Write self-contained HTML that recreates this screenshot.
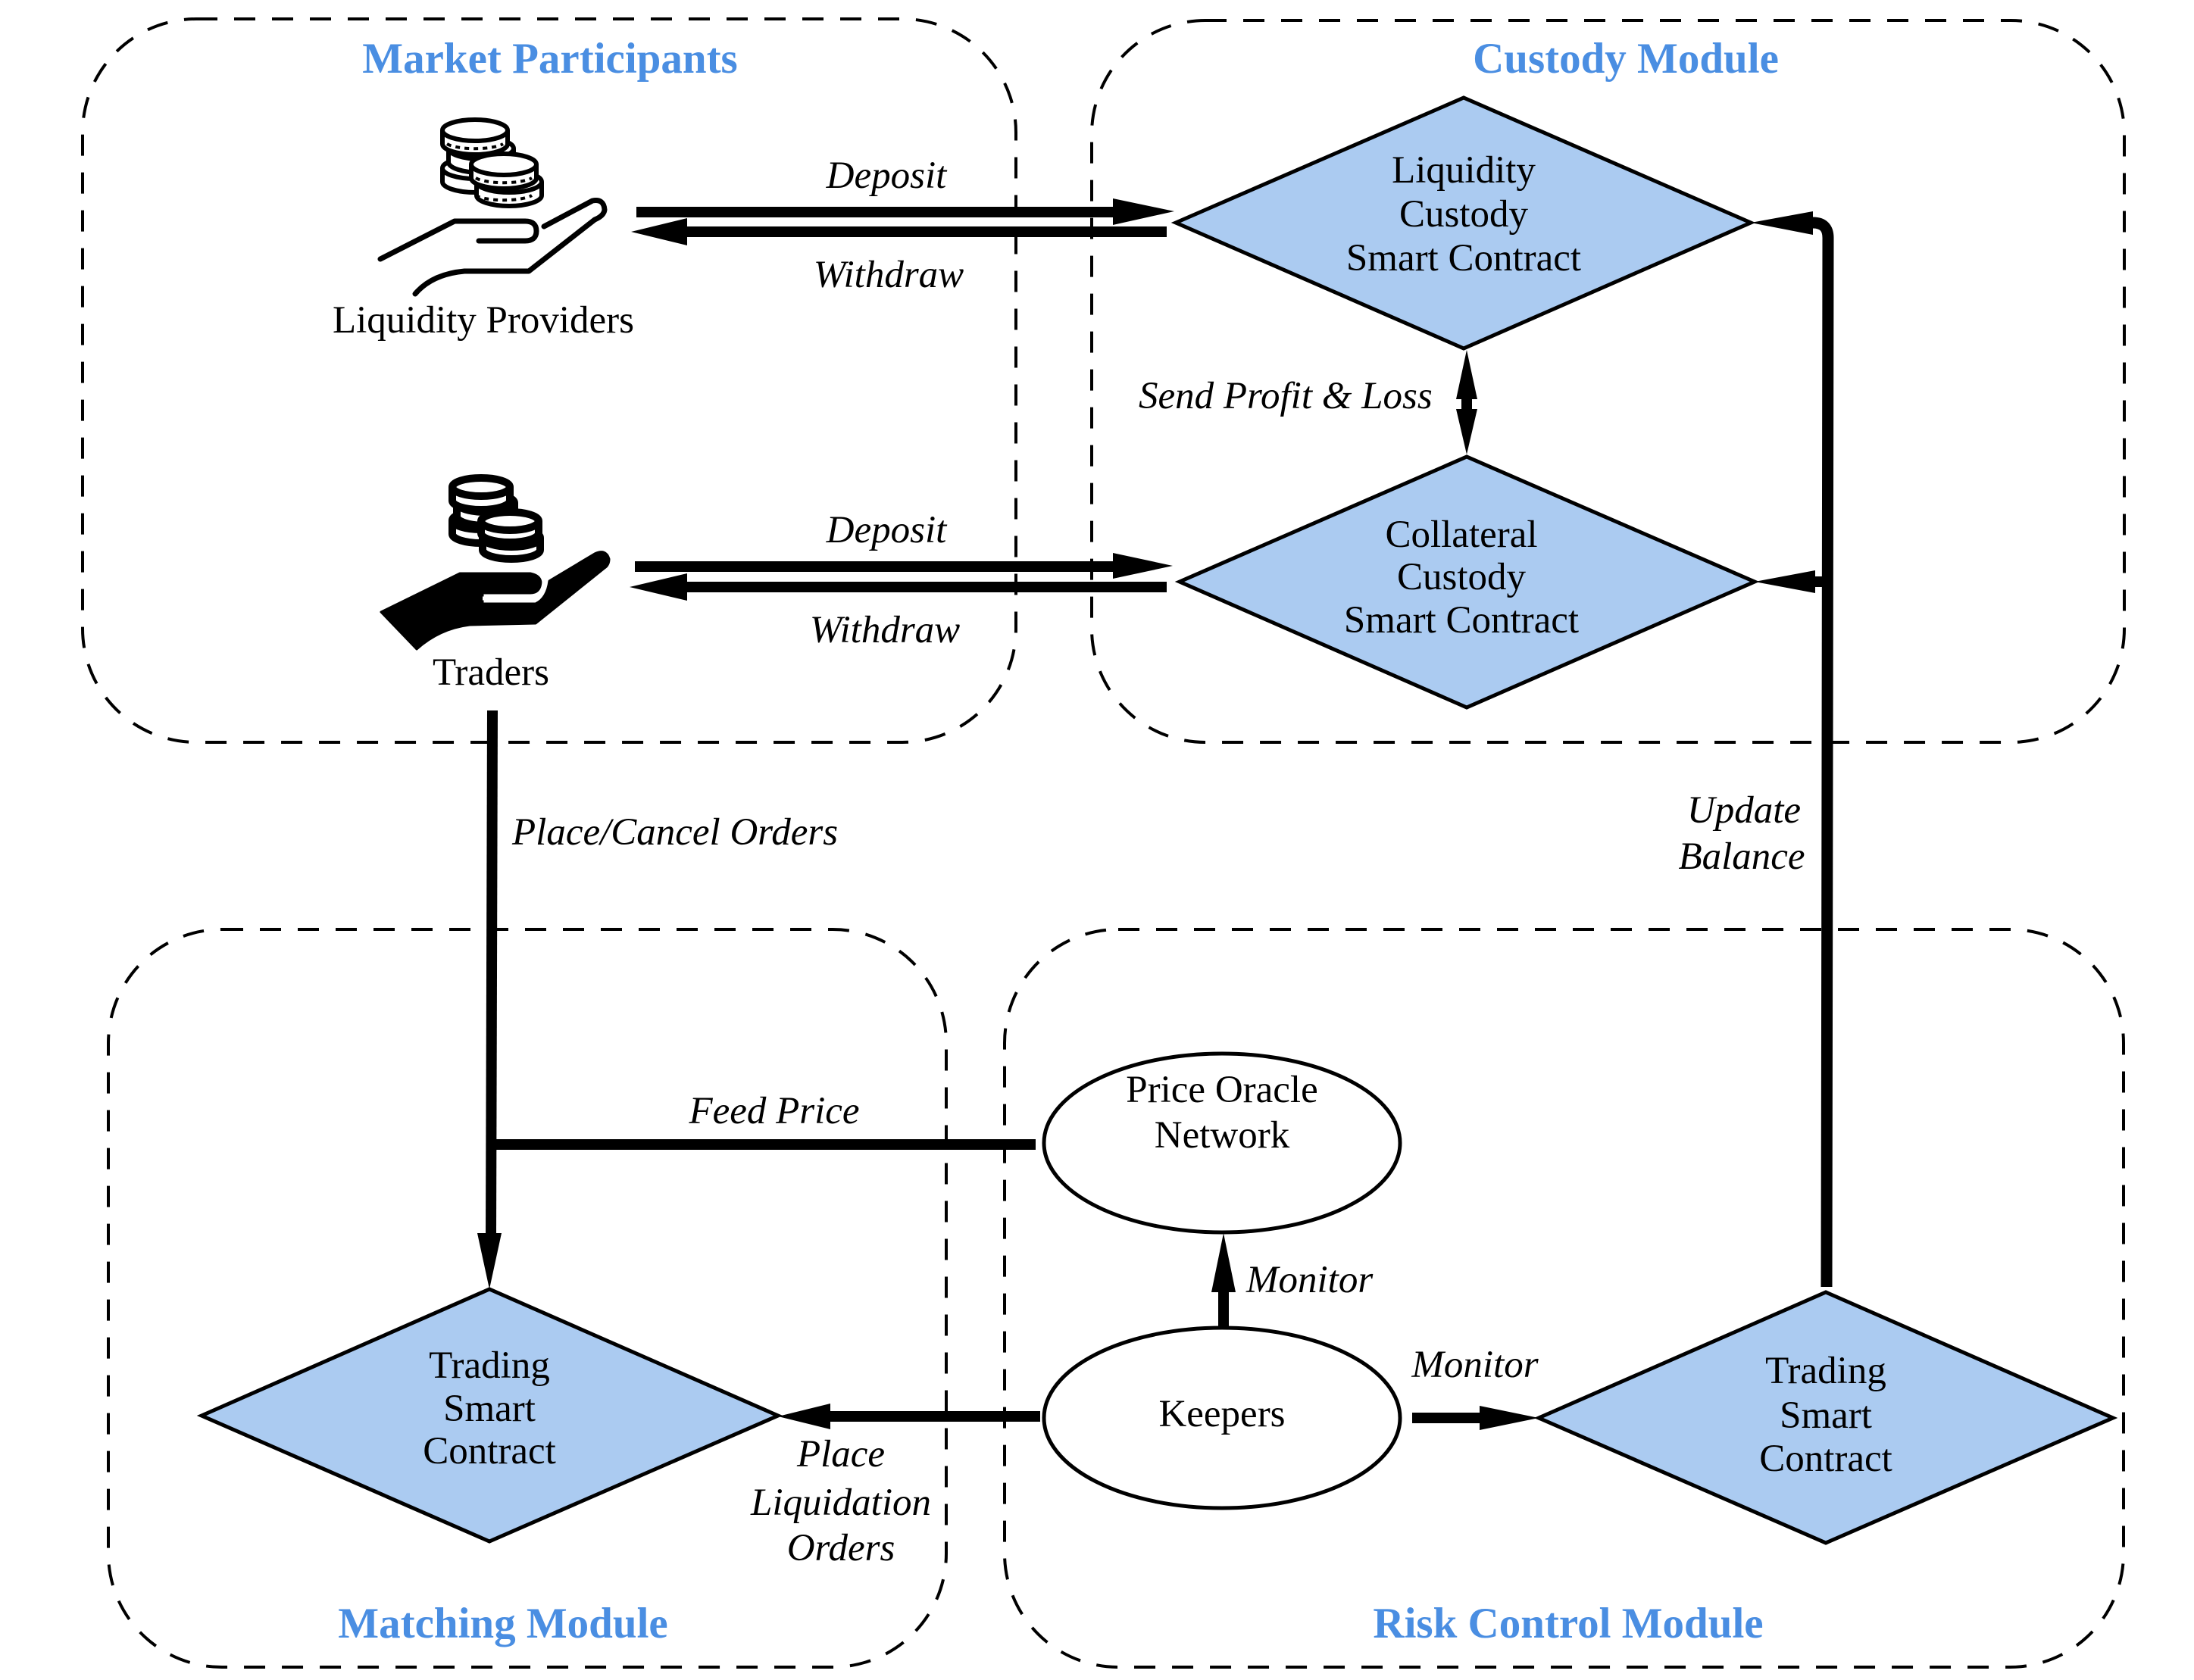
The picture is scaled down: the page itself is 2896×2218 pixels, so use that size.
<!DOCTYPE html>
<html><head><meta charset="utf-8"><style>
html,body{margin:0;padding:0;background:#fff;}
svg{display:block;font-family:"Liberation Serif","Times New Roman","Nimbus Roman",serif;}
text{font-family:"Liberation Serif","Times New Roman","Nimbus Roman",serif;}
.t{font-size:51px;fill:#000;}
.i{font-size:51px;font-style:italic;fill:#000;}
.h{font-size:57px;font-weight:bold;fill:#4a8ee2;}
</style></head><body>
<svg width="2896" height="2218" viewBox="0 0 2896 2218" xmlns="http://www.w3.org/2000/svg" font-family="Liberation Serif, Times New Roman, serif">
<g fill="none" stroke="#000" stroke-width="4" stroke-dasharray="28 22">
<rect x="109" y="25" width="1232" height="955" rx="150" ry="150"/>
<rect x="1441" y="27" width="1363" height="953" rx="150" ry="150"/>
<rect x="143" y="1227" width="1106" height="974" rx="150" ry="150"/>
<rect x="1326" y="1227" width="1477" height="974" rx="150" ry="150"/>
</g>
<text class="h" x="726" y="96" text-anchor="middle">Market Participants</text>
<text class="h" x="2146" y="96" text-anchor="middle">Custody Module</text>
<text class="h" x="664" y="2162" text-anchor="middle">Matching Module</text>
<text class="h" x="2070" y="2162" text-anchor="middle">Risk Control Module</text>

<g fill="#abcbf1" stroke="#000" stroke-width="5">
<polygon points="1552,294 1932,129 2311,294 1932,460"/>
<polygon points="1557,768 1936,603 2316,768 1936,934"/>
<polygon points="266,1869 646,1702 1027,1869 646,2035"/>
<polygon points="2031,1872 2410,1706 2789,1872 2410,2037"/>
</g>
<g text-anchor="middle">
<text class="t" x="1932" y="241">Liquidity</text>
<text class="t" x="1932" y="299">Custody</text>
<text class="t" x="1932" y="357">Smart Contract</text>
<text class="t" x="1929" y="722">Collateral</text>
<text class="t" x="1929" y="778">Custody</text>
<text class="t" x="1929" y="835">Smart Contract</text>
<text class="t" x="646" y="1819">Trading</text>
<text class="t" x="646" y="1876">Smart</text>
<text class="t" x="646" y="1932">Contract</text>
<text class="t" x="2410" y="1826">Trading</text>
<text class="t" x="2410" y="1885">Smart</text>
<text class="t" x="2410" y="1942">Contract</text>
</g>

<g fill="#fff" stroke="#000" stroke-width="5">
<ellipse cx="1613" cy="1509" rx="235" ry="118"/>
<ellipse cx="1613" cy="1872" rx="235" ry="119"/>
</g>
<text class="t" x="1613" y="1455" text-anchor="middle">Price Oracle</text>
<text class="t" x="1613" y="1515" text-anchor="middle">Network</text>
<text class="t" x="1613" y="1883" text-anchor="middle">Keepers</text>

<g stroke="#000" stroke-width="14" fill="none">
<line x1="840" y1="280" x2="1475" y2="280"/>
<line x1="900" y1="306" x2="1540" y2="306"/>
<line x1="838" y1="748" x2="1475" y2="748"/>
<line x1="898" y1="775" x2="1540" y2="775"/>
<line x1="650" y1="938" x2="648" y2="1635"/>
<line x1="650" y1="1511" x2="1367" y2="1511"/>
<line x1="1373" y1="1870" x2="1090" y2="1870"/>
<line x1="1615" y1="1753" x2="1615" y2="1700"/>
<line x1="1864" y1="1872" x2="1960" y2="1872"/>
<line x1="1936" y1="500" x2="1936" y2="565"/>
<path d="M2411,1699 L2413,314 Q2413,294 2393,294 L2385,294" stroke-width="15"/>
<line x1="2413" y1="768" x2="2390" y2="768"/>
</g>
<g fill="#000">
<polygon points="1550,279 1469,262 1469,297"/>
<polygon points="833,306 907,288 907,324"/>
<polygon points="1548,747 1469,730 1469,764"/>
<polygon points="831,775 907,757 907,793"/>
<polygon points="1936,462 1922,527 1950,527"/>
<polygon points="1936,600 1922,540 1950,540"/>
<polygon points="2311,294 2393,279 2393,310"/>
<polygon points="2316,768 2396,753 2396,783"/>
<polygon points="646,1702 630,1628 662,1628"/>
<polygon points="1027,1870 1096,1853 1096,1887"/>
<polygon points="1615,1628 1599,1706 1631,1706"/>
<polygon points="2031,1872 1953,1856 1953,1888"/>
</g>

<g>
<text class="i" x="1170" y="248" text-anchor="middle">Deposit</text>
<text class="i" x="1173" y="379" text-anchor="middle">Withdraw</text>
<text class="i" x="1170" y="716" text-anchor="middle">Deposit</text>
<text class="i" x="1168" y="848" text-anchor="middle">Withdraw</text>
<text class="i" x="1503" y="539">Send Profit &amp; Loss</text>
<text class="i" x="676" y="1115">Place/Cancel Orders</text>
<text class="i" x="2302" y="1086" text-anchor="middle">Update</text>
<text class="i" x="2299" y="1147" text-anchor="middle">Balance</text>
<text class="i" x="1022" y="1483" text-anchor="middle">Feed Price</text>
<text class="i" x="1110" y="1936" text-anchor="middle">Place</text>
<text class="i" x="1110" y="2000" text-anchor="middle">Liquidation</text>
<text class="i" x="1110" y="2060" text-anchor="middle">Orders</text>
<text class="i" x="1645" y="1706">Monitor</text>
<text class="i" x="1947" y="1818" text-anchor="middle">Monitor</text>
</g>

<text class="t" x="638" y="439" text-anchor="middle">Liquidity Providers</text>
<text class="t" x="648" y="904" text-anchor="middle">Traders</text>

<g stroke="#000" stroke-width="6" fill="#fff">
<path d="M584,222 L584,240 A43,14 0 0 0 670,240 L670,222"/><ellipse cx="627" cy="222" rx="43" ry="14"/>
<path d="M592,196 L592,214 A43,14 0 0 0 678,214 L678,196"/><ellipse cx="635" cy="196" rx="43" ry="14"/>
<path d="M584,172 L584,190 A43,14 0 0 0 670,190 L670,172"/><ellipse cx="627" cy="172" rx="43" ry="14"/>
<path d="M629,240 L629,258 A43,14 0 0 0 715,258 L715,240"/><ellipse cx="672" cy="240" rx="43" ry="14"/>
<path d="M622,217 L622,235 A43,14 0 0 0 708,235 L708,217"/><ellipse cx="665" cy="217" rx="43" ry="14"/>
</g>
<g stroke="#000" stroke-width="4" fill="none" stroke-dasharray="6 6">
<path d="M590,190 A40,10 0 0 0 664,190"/>
<path d="M628,258 A40,10 0 0 0 702,258"/>
<path d="M628,235 A40,10 0 0 0 702,235"/>
</g>
<g stroke="#000" stroke-width="7" fill="none" stroke-linecap="round" stroke-linejoin="round">
<path d="M502,342 L600,292 L693,292 Q708,292 708,305 Q708,318 693,318 L632,318"/>
<path d="M718,299 L782,265 Q797,262 798,277 Q797,285 785,290 L698,358 L613,358 Q570,362 548,388"/>
</g>

<g stroke="#000" stroke-width="10" fill="#fff">
<path d="M597,687 L597,705 A38,12 0 0 0 673,705 L673,687"/><ellipse cx="635" cy="687" rx="38" ry="12"/>
<path d="M603,664 L603,682 A38,12 0 0 0 679,682 L679,664"/><ellipse cx="641" cy="664" rx="38" ry="12"/>
<path d="M597,643 L597,661 A38,12 0 0 0 673,661 L673,643"/><ellipse cx="635" cy="643" rx="38" ry="12"/>
<path d="M637,710 L637,726 A38,12 0 0 0 713,726 L713,710"/><ellipse cx="675" cy="710" rx="38" ry="12"/>
<path d="M635,688 L635,704 A38,12 0 0 0 711,704 L711,688"/><ellipse cx="673" cy="688" rx="38" ry="12"/>
</g>
<g fill="#000" stroke="#000" stroke-width="3" stroke-linejoin="round">
<path d="M503,808 L607,757 L700,757 Q714,760 714,770 Q712,783 700,783 L637,783 L637,797 L707,797 Q722,790 725,767 L785,731 Q800,724 804,738 Q804,746 798,750 L707,823 L620,825 Q580,830 550,857 Z"/>
</g>
<path d="M637,790 L704,790 Q717,786 718,768" stroke="#fff" stroke-width="5" fill="none"/>
</svg>
</body></html>
